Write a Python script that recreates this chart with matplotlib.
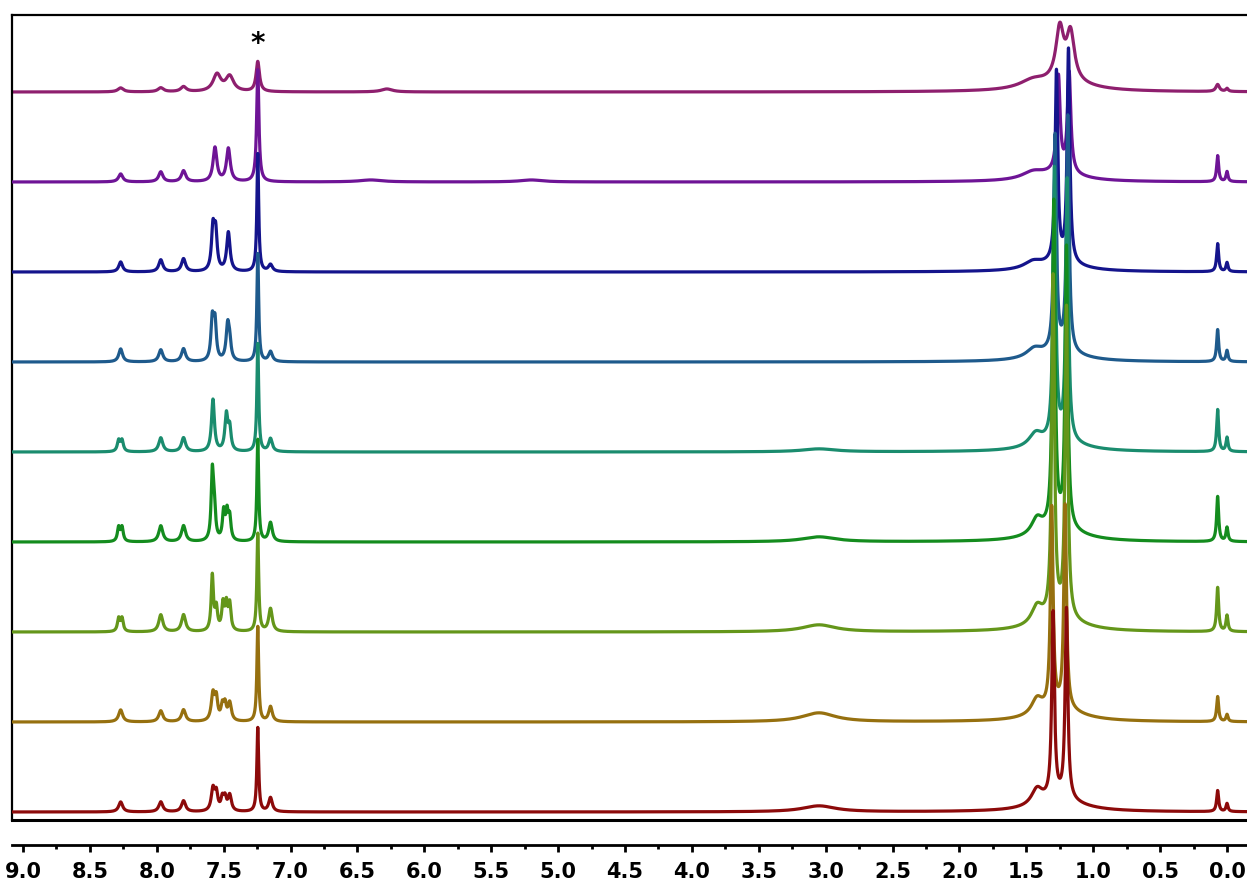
import numpy as np
import matplotlib
matplotlib.use("Agg")
import matplotlib.pyplot as plt
from matplotlib.ticker import MultipleLocator, FormatStrFormatter

# peak tables per spectrum: (shift in ppm, height, half width in ppm)
# listed from the bottom trace upward
red_peaks = [(8.27, 10, 0.018), (7.97, 10, 0.018), (7.80, 11, 0.018),
             (7.58, 22, 0.015), (7.555, 17, 0.013), (7.51, 12, 0.012), (7.49, 12, 0.012),
             (7.455, 16, 0.015), (7.245, 84, 0.008), (7.15, 14, 0.016),
             (3.05, 6, 0.15), (1.42, 16, 0.05), (1.25, 12, 0.2),
             (1.30, 185, 0.012), (1.20, 190, 0.012),
             (0.07, 21, 0.009), (0.0, 8, 0.009)]
brown_peaks = [(8.27, 12, 0.018), (7.97, 11, 0.018), (7.80, 12, 0.018),
               (7.58, 27, 0.015), (7.555, 21, 0.012), (7.51, 14, 0.012), (7.49, 15, 0.012),
               (7.455, 18, 0.015), (7.245, 95, 0.008), (7.15, 15, 0.016),
               (3.05, 9, 0.15), (1.42, 16, 0.05), (1.25, 12, 0.2),
               (1.31, 200, 0.012), (1.21, 203, 0.012),
               (0.07, 25, 0.009), (0.0, 7, 0.009)]
olive_peaks = [(8.285, 13, 0.011), (8.26, 13, 0.011), (7.97, 17, 0.018), (7.80, 17, 0.018),
               (7.585, 55, 0.010), (7.555, 22, 0.011), (7.505, 26, 0.011), (7.48, 25, 0.011),
               (7.455, 26, 0.011), (7.245, 98, 0.008), (7.15, 23, 0.016),
               (3.05, 7, 0.15), (1.42, 18, 0.05), (1.25, 12, 0.2),
               (1.30, 340, 0.012), (1.20, 310, 0.012),
               (0.07, 44, 0.009), (0.0, 16, 0.009)]
green_peaks = [(8.285, 14, 0.011), (8.26, 14, 0.011), (7.97, 16, 0.018), (7.80, 16, 0.018),
               (7.585, 66, 0.010), (7.57, 30, 0.011), (7.50, 28, 0.011), (7.475, 26, 0.011),
               (7.455, 22, 0.011), (7.245, 102, 0.008), (7.15, 19, 0.016),
               (3.05, 5, 0.15), (1.42, 16, 0.05), (1.25, 12, 0.2),
               (1.295, 325, 0.012), (1.20, 280, 0.012),
               (0.07, 45, 0.009), (0.0, 14, 0.009)]
teal_peaks = [(8.285, 11, 0.012), (8.26, 11, 0.012), (7.97, 14, 0.018), (7.80, 14, 0.018),
              (7.58, 52, 0.013), (7.48, 36, 0.013), (7.455, 22, 0.012),
              (7.245, 108, 0.008), (7.15, 13, 0.016),
              (3.05, 3, 0.15), (1.43, 13, 0.06), (1.25, 10, 0.2),
              (1.29, 270, 0.012), (1.195, 260, 0.012),
              (0.07, 42, 0.009), (0.0, 14, 0.009)]
steel_peaks = [(8.27, 13, 0.017), (7.97, 12, 0.018), (7.80, 13, 0.018),
               (7.585, 40, 0.012), (7.565, 37, 0.012), (7.47, 35, 0.014), (7.455, 15, 0.012),
               (7.245, 108, 0.008), (7.15, 10, 0.017),
               (1.44, 9, 0.07), (1.25, 9, 0.2),
               (1.285, 215, 0.012), (1.19, 235, 0.012),
               (0.07, 32, 0.009), (0.0, 11, 0.009)]
blue_peaks = [(8.27, 10, 0.017), (7.97, 12, 0.018), (7.80, 13, 0.018),
              (7.58, 41, 0.013), (7.56, 37, 0.013), (7.465, 39, 0.015),
              (7.245, 118, 0.008), (7.15, 7, 0.018),
              (1.45, 7, 0.08), (1.25, 8, 0.2),
              (1.275, 190, 0.012), (1.185, 213, 0.012),
              (0.07, 28, 0.009), (0.0, 9, 0.009)]
purple_peaks = [(8.27, 8, 0.019), (7.97, 10, 0.019), (7.80, 11, 0.019),
                (7.565, 34, 0.017), (7.465, 33, 0.017), (7.245, 112, 0.010),
                (6.4, 2, 0.1), (5.2, 2, 0.1),
                (1.45, 7, 0.10), (1.25, 8, 0.2),
                (1.26, 95, 0.015), (1.18, 100, 0.015),
                (0.07, 26, 0.009), (0.0, 10, 0.009)]
magenta_peaks = [(8.27, 4, 0.025), (7.97, 4, 0.025), (7.80, 5, 0.025),
                 (7.55, 17, 0.035), (7.455, 15, 0.035), (7.245, 30, 0.015), (6.28, 3, 0.05),
                 (1.45, 8, 0.12), (1.22, 8, 0.25),
                 (1.25, 52, 0.035), (1.17, 48, 0.035),
                 (0.07, 7, 0.016), (0.0, 3, 0.011)]

spectra = [red_peaks, brown_peaks, olive_peaks, green_peaks, teal_peaks,
           steel_peaks, blue_peaks, purple_peaks, magenta_peaks]
colors = ["#8c0a0a", "#96700f", "#64961a", "#148c1e", "#1a8c6e",
          "#1e5a8c", "#14148c", "#6e1496", "#8e1f6e"]
offset_step = 90
base = 8


def lorentz_sum(ppm, peaks):
    y = np.zeros_like(ppm)
    for pos, h, w in peaks:
        y += h / (1 + ((ppm - pos) / w) ** 2)
    return y


ppm = np.linspace(9.2, -0.3, 14000)

fig = plt.figure(figsize=(12.47, 8.86), dpi=100)
W, H = 1247.0, 886.0
x0, x1 = 12, 1262
ax = fig.add_axes([x0 / W, 1 - 820 / H, (x1 - x0) / W, (820 - 15) / H])

# draw the top trace first so lower traces sit over it
for k in range(len(spectra) - 1, -1, -1):
    y = base + k * offset_step + lorentz_sum(ppm, spectra[k])
    ax.plot(ppm, y, color=colors[k], lw=2.3, zorder=10 - k)

px_per_ppm = 133.8
left_ppm = 9.0 + (23 - x0) / px_per_ppm
right_ppm = -(x1 - 1227) / px_per_ppm
ax.set_xlim(left_ppm, right_ppm)
ax.set_ylim(0, 805)
ax.set_xticks([])
ax.set_yticks([])
for s in ax.spines.values():
    s.set_linewidth(1.6)
ax.spines["bottom"].set_linewidth(2.2)
ax.spines["right"].set_visible(False)

ax.text(7.245, 776, "*", ha="center", va="center", fontsize=20,
        fontweight="bold", color="black")

# separate chemical shift scale below the frame
sc = fig.add_axes([x0 / W, 1 - 845 / H, (x1 - x0) / W, 0.0001])
sc.set_xlim(left_ppm, right_ppm)
sc.set_yticks([])
for side in ["top", "left", "right"]:
    sc.spines[side].set_visible(False)
sc.spines["bottom"].set_linewidth(2.0)
sc.xaxis.set_major_locator(MultipleLocator(0.5))
sc.xaxis.set_minor_locator(MultipleLocator(0.25))
sc.xaxis.set_major_formatter(FormatStrFormatter("%.1f"))
sc.tick_params(axis="x", which="major", direction="out", length=5, width=2,
               pad=7, labelsize=15)
sc.tick_params(axis="x", which="minor", direction="out", length=3, width=2)
for lbl in sc.get_xticklabels():
    lbl.set_fontweight("bold")

fig.savefig("out.png", dpi=100)
